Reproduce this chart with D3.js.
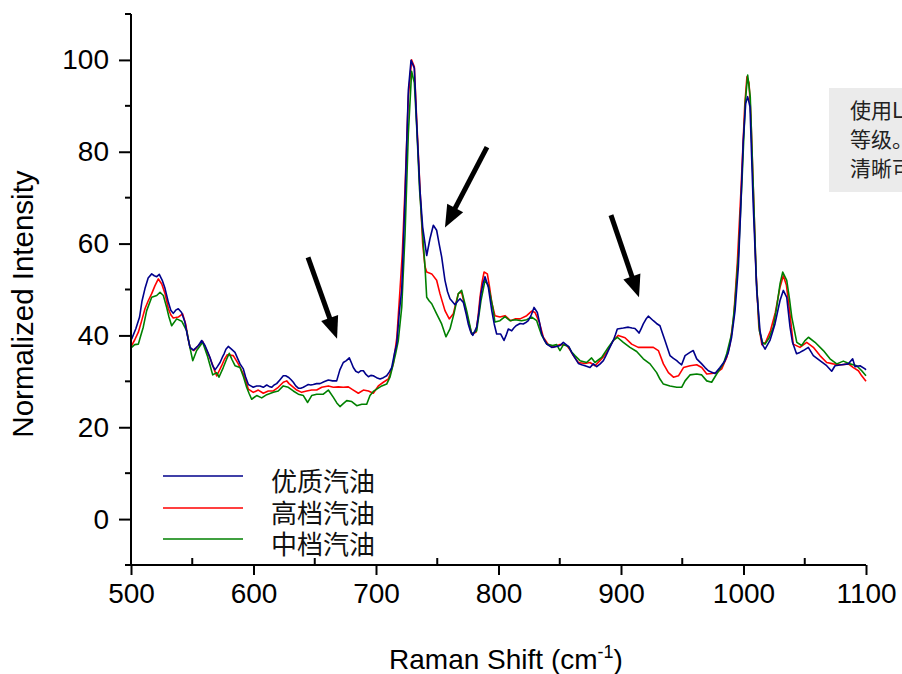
<!DOCTYPE html>
<html>
<head>
<meta charset="utf-8">
<script src="https://cdn.jsdelivr.net/npm/d3@7"></script>
<style>
  html, body { margin: 0; padding: 0; background: #fff; }
  svg { display: block; }
</style>
</head>
<body>
<svg id="chart" width="902" height="674"></svg>
<script>
// ---- Data (Raman shift, normalized intensity) ----
const blueSeries = [[500.5,39.2],[504,41.5],[507,44],[509,47.5],[511.4,50.2],[514,52.5],[516.9,53.4],[519,53],[521,52.8],[523.1,53.3],[525.5,52],[527.8,50.2],[530.5,47.2],[532.5,45.5],[534.5,44.8],[536.5,45.5],[538.6,45.8],[541.3,45],[544,42.9],[546,40],[548.2,37.4],[550.9,36.8],[553,37.3],[555,37.8],[557.7,38.9],[560.4,37.8],[562.5,36.5],[564.5,35.2],[566.5,33.5],[568.6,32.5],[570.5,33.2],[572.7,34.1],[574.5,35.2],[576,36],[577.5,37],[579.4,37.6],[582,37],[584.9,36.3],[587,35],[589,33.8],[591.7,32.7],[593.5,31],[595.8,29.3],[597.8,29],[599.8,28.7],[602.5,29],[605.3,29],[608,28.7],[610.8,29.2],[612.8,28.9],[614.8,28.7],[616.8,29.2],[618.9,29.5],[621.5,30.3],[624.3,31.2],[626.3,31.2],[628.4,30.9],[630.5,30.4],[632.5,29.8],[634.5,29],[636.6,28.5],[638.6,28.5],[640.7,28.7],[642.7,29],[644.7,29.3],[646.8,29.2],[648.8,29.3],[651.5,29.5],[654.3,29.5],[657.5,29.9],[661.1,30.3],[664.5,30.1],[667.9,30.1],[670.5,32.5],[673.3,34.1],[675.8,34.5],[678.2,35.1],[680,34],[681.5,33],[683.5,32.2],[685.6,31.9],[687.5,32.3],[689.7,32.3],[691.8,31.5],[693.8,31],[695.8,31.3],[697.8,31.2],[700.5,30.8],[703.3,30.5],[706,30.8],[708.7,31.2],[710.8,32],[712.8,33],[715,36],[716.9,38.1],[719,45],[721,50],[723.7,70],[726.4,93.4],[728.6,99.9],[731.3,98.2],[733.2,86.2],[735.9,71.6],[738.1,63.6],[741.4,57.4],[744,61],[746.8,64],[749.5,62.9],[751.5,60],[753.6,57.1],[756.3,52],[758.4,49.5],[760.4,48],[764.5,46.7],[766.5,47.4],[768.6,48],[771.3,47.2],[773.3,45],[775.3,42.5],[777,41],[779,40],[782.2,41.8],[784,45],[785.7,49.1],[787.5,51.5],[789,52.8],[791.7,50.5],[794.5,45.4],[796.5,42.5],[798.5,40.3],[801.8,40.3],[804.5,38.9],[806.2,40],[808,41.4],[810.8,41],[812.5,41.6],[814.3,42.1],[817.6,42.6],[820.2,42.5],[822.3,42.8],[824.3,43.2],[826.8,44.5],[829,46.1],[831.7,45],[833.5,42.8],[835.3,40.3],[837.4,39],[839.4,38.1],[843.4,37.4],[847.5,37.6],[850.2,37.8],[852.9,38.5],[855.7,37.9],[857.5,37.5],[859.7,36.3],[861.5,35.5],[863.8,34.5],[865.2,33.9],[867.9,33.6],[870.6,33.4],[874.7,33],[877.4,33.8],[880.2,33.2],[883,33.8],[885.6,34.5],[887.5,35.5],[889.6,36.7],[893.7,38.9],[895.5,40.2],[897,41.4],[901.9,41.6],[906,41.8],[909,41.6],[911.4,41.5],[913.2,41],[914.7,40.5],[916.5,41.5],[918.2,42.5],[920.3,43.5],[922.3,44.2],[926.4,43.2],[929,42.6],[931.8,42.1],[933.8,40.5],[935.9,38.9],[938,37.2],[940,35.6],[942.8,35],[945.5,34.5],[947.5,34],[949.5,33.6],[952.3,35.6],[956.3,36.3],[959,36.7],[961.8,34.9],[965.9,33.8],[968.6,33],[971.3,32.3],[974,32],[976.7,31.7],[980.8,33],[984.9,34.5],[987.6,36.3],[990.3,39.6],[993.1,45.4],[995.8,54.9],[997.5,66],[999.8,82.5],[1001.8,90.5],[1003.4,92],[1005.3,89.8],[1008,68],[1010.8,49.8],[1013.5,41],[1015.5,38],[1017.6,37],[1021.6,38.9],[1025.7,42.5],[1029.8,47.6],[1032.5,49.8],[1035.3,48.3],[1038,41.8],[1040,38.5],[1043.3,36],[1046,36.3],[1048.8,36.7],[1052.9,37.4],[1057,35.6],[1062.4,34.5],[1067.9,33.4],[1072,32.2],[1074.7,33.4],[1080.2,33.6],[1085.6,33.8],[1089.1,34.9],[1091,33.2],[1095.1,33.4],[1099.2,32.7],[1100,32.5]];

const redSeries = [[500.5,37.8],[503,39],[506,40.7],[508.5,43],[511.4,45.8],[514,47.5],[516.9,49.1],[519.5,50.8],[522.3,52.3],[525.1,51.2],[527.8,49.1],[530.5,45.8],[532.5,44.5],[534.5,43.8],[538.6,44],[542.1,44.7],[544.6,42.5],[546.5,39.5],[548.2,37.3],[551.4,36.7],[555,37.8],[558.5,38.7],[561.8,36.7],[563.8,35.5],[565.9,34.1],[568,32.5],[570,31.2],[572,32.3],[574,33.4],[576.3,34.8],[578.6,35.8],[583.5,35.6],[587.6,33.8],[591.7,31.6],[593.8,30],[595.8,28.3],[599.8,27.6],[603.9,28.1],[608,27.4],[612.1,27.9],[616.2,27.9],[620.2,28.7],[624.3,29.8],[627.1,30.1],[629,29.5],[631.2,29],[635.3,28.1],[639.3,27.6],[643.4,27.9],[647.5,28.1],[651.6,28.1],[655.7,28.7],[661.1,29],[665.2,28.7],[669.2,28.8],[673.3,28.7],[677.4,28.8],[681.5,28.1],[685.6,27.4],[689.7,28.1],[693.8,27.9],[697.8,27.4],[701.9,29],[706,29.8],[710.1,30.5],[712,32],[714.1,33.8],[717,39.5],[719.6,50],[721.5,58],[723.7,72],[726.4,92],[729.1,100],[731.3,98.5],[733.2,87],[735.9,72],[738.1,60],[740,55],[741.4,53.8],[743.5,53.6],[745.5,53.4],[749.5,52],[752.2,49.1],[754.3,47.2],[756.3,45.4],[759.8,43.6],[763.1,44.7],[765.2,47],[767.2,49.1],[769.9,49.4],[772,47],[774,44.7],[776,42.5],[778.1,40.3],[781.6,40.7],[783.3,44],[784.9,48.3],[786.5,51.5],[788.2,53.8],[790.9,53.4],[792.7,50.5],[794.5,47.2],[797.1,44.3],[801.2,44],[805.3,44.3],[809.9,43.2],[813.5,43.6],[817.6,43.6],[823,44.3],[827.1,45.3],[829.8,45],[831.5,44],[833.3,42.9],[836.6,39.6],[840.7,38],[844.7,37.4],[850.2,38],[853,37.9],[855.7,37.8],[858.5,36.8],[861.1,35.6],[865.2,34.1],[870.6,33.9],[874.7,34.1],[878.8,33.4],[882.8,34.5],[885.5,35.3],[888.3,36.3],[891,37.6],[893.7,38.9],[897.8,40],[903.3,39.5],[908.7,38.1],[914.1,37.4],[919.6,37.4],[926.4,37.4],[930.5,36.7],[934.6,33.8],[938.7,31.9],[942.8,30.9],[946.9,31.2],[951,33],[956.4,33.4],[961.8,33.6],[965.9,33],[970,31.6],[974,31.7],[978.1,31.9],[982.2,32.7],[986.3,35.2],[989,38.1],[992,44],[995,56],[998,72],[1001,90],[1002.8,96.3],[1004.5,95],[1006,88],[1008,72],[1010.2,54],[1012.5,42],[1015,38],[1018,38.5],[1022,41],[1026,45],[1029.8,50.5],[1032.5,53],[1035,51],[1038,44.5],[1040.6,38.1],[1046.1,37.4],[1051.6,38.5],[1057,37.4],[1062.4,35.6],[1067.9,34.1],[1073.3,33.8],[1080.2,33.6],[1085.6,33.8],[1089.7,33],[1093.8,32.3],[1096.5,31.2],[1100,30]];

const greenSeries = [[500.5,37.4],[503,38],[506,38.1],[508,40],[510,41.8],[512.8,45.4],[516.9,48.3],[521,48.7],[523.7,49.4],[526.4,48.7],[529.1,46.1],[531,44],[533.2,42.1],[537.3,43.6],[541.4,43.1],[545.5,41],[548,37.5],[550.4,34.5],[553.6,36.7],[558.5,38.5],[562.3,35.6],[564.5,33.5],[566.7,31.4],[570,31.9],[571.8,30.9],[575.3,33],[578,34.8],[580.2,36.1],[582.5,34.7],[584.9,33.4],[589,33],[591.8,31],[594.4,28.7],[596.5,27.3],[598.5,26.1],[602.6,26.9],[606.7,26.4],[610.8,27.1],[616.2,27.6],[620.2,27.9],[624.3,29],[628.4,28.7],[632.5,27.9],[636.6,27.2],[640.7,26.9],[644.2,25.4],[647.5,26.9],[651.6,27.2],[657,27.2],[661.1,28.1],[665.2,26.5],[668,25.3],[670.6,24.5],[673.5,25.2],[676.1,25.8],[680.2,25.6],[684.3,24.7],[688.4,25],[692.4,25],[695.1,26.9],[697.8,27.8],[700.6,28.3],[704.7,29],[708.7,29.4],[711.4,30.9],[714.1,33.8],[716,36],[718.2,38.9],[721,46.1],[723.7,62],[726.4,84],[729.1,97.5],[731.3,95],[733.5,84],[735.5,72],[737.3,65],[740,54.9],[741.4,48.3],[743.5,47.5],[745.5,46.9],[749.5,44.7],[753.6,42.5],[757.1,39.7],[760.4,41.4],[763.6,44.7],[767.2,49.1],[769.9,49.8],[772,47.5],[774,45.4],[778.1,40.3],[782.2,41],[785.7,47.6],[789,52],[791.7,50.9],[793.5,48.5],[795.3,46.1],[797.1,42.9],[801.2,43.2],[805.3,44.1],[809.4,43.2],[813.5,43.4],[818.9,43.2],[823,43.4],[827.1,44],[831.2,43.2],[833.3,41.5],[835.3,40],[839.4,38.1],[844.2,37.8],[847.5,38],[850.2,36.7],[853,38],[857,37.6],[859.7,36.4],[862.4,35.6],[866.5,34.5],[871.9,34.1],[876,35.1],[878.8,34.1],[884.2,35.2],[889.6,37.4],[893.7,38.9],[897,39.6],[901.9,38.5],[907.3,37.4],[912.8,36.5],[918.2,34.9],[923.7,33.8],[929.1,31.9],[931.8,30.5],[934.6,29.4],[940,29],[945.5,28.7],[949.5,28.7],[952.3,30.1],[956.3,31.4],[961.8,31.6],[965.9,31.4],[970,30.1],[974,29.8],[978.1,31.6],[983.5,33.8],[986.3,36],[990.3,40.3],[993,47],[996,58],[999,75],[1001.5,91],[1003.4,96.7],[1005.5,92],[1008,72],[1010.5,52],[1013,41],[1015.5,38.5],[1017.6,38.1],[1021,39.5],[1024.3,41.8],[1027,46],[1029.8,51.2],[1032,53.8],[1035.3,52],[1037.5,48],[1039.4,44],[1043.5,38.5],[1047.5,37.8],[1050,38.8],[1053,39.6],[1058.4,38.5],[1065.2,36.7],[1070.6,34.9],[1076.1,33.8],[1081.5,34.4],[1087,33.8],[1092.4,33.4],[1096.5,32.3],[1100,31.2]];

const seriesNames = ["优质汽油", "高档汽油", "中档汽油"];
const seriesColors = ["#00008b", "#ff0000", "#008000"];

const xTicks = [500, 600, 700, 800, 900, 1000, 1100];
const xMinorTicks = [550, 650, 750, 850, 950, 1050];
const yTicks = [0, 20, 40, 60, 80, 100];
const yMinorTicks = [-10, 10, 30, 50, 70, 90, 110];

// annotation arrows in data coordinates: [tailX, tailY, tipX, tipY]
const arrows = [[644.5, 57.0, 668.2, 39.3], [790.6, 81.0, 756.3, 63.5], [891.8, 66.2, 914.7, 48.3]];

const noteLines = ["使用L", "等级。", "清晰可"];

// ---- Drawing ----
const svg = d3.select("#chart");
const x = d3.scaleLinear().domain([500, 1100]).range([131, 866]);
const y = d3.scaleLinear().domain([-10, 110]).range([565, 14]);

const font = "'Liberation Sans', Arial, sans-serif";
const cjk = "'Noto Sans CJK SC', 'Noto Sans', sans-serif";

svg.append("rect").attr("width", 902).attr("height", 674).attr("fill", "#fff");

// note box (partly outside the picture, as in the original)
const noteG = svg.append("g");
noteG.append("rect").attr("x", 829).attr("y", 88).attr("width", 120).attr("height", 104).attr("fill", "#ebebeb");
noteLines.forEach((t, i) => {
  noteG.append("text").attr("x", 850).attr("y", 118 + i * 29)
    .attr("font-family", cjk).attr("font-size", 21).attr("fill", "#222").text(t);
});

// curves
const line = d3.line().x(d => x(d[0])).y(d => y(d[1]));
const drawOrder = [[redSeries, 1], [greenSeries, 2], [blueSeries, 0]];
drawOrder.forEach(([data, idx]) => {
  svg.append("path").datum(data).attr("d", line)
    .attr("fill", "none").attr("stroke", seriesColors[idx])
    .attr("stroke-width", 1.6).attr("stroke-linejoin", "round");
});

// X axis
const xAxisG = svg.append("g").attr("transform", `translate(0,${y(-10)})`);
xAxisG.call(d3.axisBottom(x).tickValues(xTicks).tickSize(10).tickPadding(8).tickFormat(d3.format("d")))
  .call(g => g.select(".domain").attr("d", `M${x(500)},0H${x(1100)}`));
xAxisG.selectAll(".tick line").attr("stroke-width", 2);
xAxisG.select(".domain").attr("stroke-width", 2);
xAxisG.selectAll(".tick text").attr("font-family", font).attr("font-size", 28).attr("fill", "#000");
xAxisG.selectAll(".minor").data(xMinorTicks).enter().append("line")
  .attr("x1", d => x(d)).attr("x2", d => x(d)).attr("y1", 0).attr("y2", -7)
  .attr("stroke", "#000").attr("stroke-width", 2);

// Y axis
const yAxisG = svg.append("g").attr("transform", `translate(${x(500)},0)`);
yAxisG.call(d3.axisLeft(y).tickValues(yTicks).tickSize(12).tickPadding(10).tickFormat(d3.format("d")))
  .call(g => g.select(".domain").attr("d", `M0,${y(-10)}V${y(110)}`));
yAxisG.selectAll(".tick line").attr("stroke-width", 2);
yAxisG.select(".domain").attr("stroke-width", 2);
yAxisG.selectAll(".tick text").attr("font-family", font).attr("font-size", 28).attr("fill", "#000");
yAxisG.selectAll(".minor").data(yMinorTicks).enter().append("line")
  .attr("x1", 0).attr("x2", -6).attr("y1", d => y(d)).attr("y2", d => y(d))
  .attr("stroke", "#000").attr("stroke-width", 2);

// Axis titles
const xt = svg.append("text").attr("x", 506).attr("y", 669).attr("text-anchor", "middle")
  .attr("font-family", font).attr("font-size", 28).attr("fill", "#000");
xt.append("tspan").text("Raman Shift (cm");
xt.append("tspan").attr("font-size", 18).attr("dy", -11).text("-1");
xt.append("tspan").attr("dy", 11).text(")");

svg.append("text").attr("transform", "translate(33,304) rotate(-90)").attr("text-anchor", "middle")
  .attr("font-family", font).attr("font-size", 29.5).attr("fill", "#000").text("Normalized Intensity");

// Legend
const legendY = [476, 508, 539];
seriesNames.forEach((name, i) => {
  svg.append("line").attr("x1", 163).attr("x2", 243).attr("y1", legendY[i]).attr("y2", legendY[i])
    .attr("stroke", seriesColors[i]).attr("stroke-width", 1.6);
  svg.append("text").attr("x", 271).attr("y", legendY[i] + 15)
    .attr("font-family", cjk).attr("font-size", 26).attr("fill", "#111").text(name);
});

// Arrows
arrows.forEach(([x1d, y1d, x2d, y2d]) => {
  const x1 = x(x1d), y1 = y(y1d), x2 = x(x2d), y2 = y(y2d);
  const dx = x2 - x1, dy = y2 - y1, len = Math.hypot(dx, dy);
  const ux = dx / len, uy = dy / len;
  const headLen = 22, headW = 9;
  const bx = x2 - ux * headLen, by = y2 - uy * headLen;
  svg.append("line").attr("x1", x1).attr("y1", y1).attr("x2", bx + ux * 2).attr("y2", by + uy * 2)
    .attr("stroke", "#000").attr("stroke-width", 5);
  const pts = [[x2, y2], [bx - uy * headW, by + ux * headW], [bx + uy * headW, by - ux * headW]];
  svg.append("polygon").attr("points", pts.map(p => p.join(",")).join(" ")).attr("fill", "#000");
});
</script>
</body>
</html>
